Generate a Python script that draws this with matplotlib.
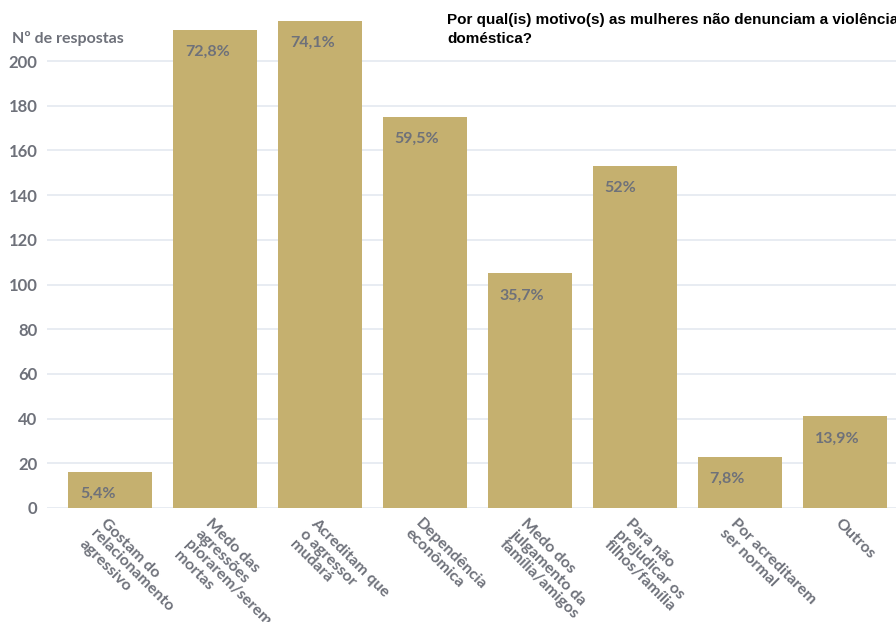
import matplotlib
matplotlib.use('Agg')
import matplotlib.pyplot as plt
from matplotlib import transforms

categorias = ['Gostam do\nrelacionamento\nagressivo',
              'Medo das\nagressões\npiorarem/serem\nmortas',
              'Acreditam que\no agressor\nmudará',
              'Dependência\neconômica',
              'Medo dos\njulgamento da\nfamília/amigos',
              'Para não\nprejudicar os\nfilhos/família',
              'Por acreditarem\nser normal',
              'Outros']
respostas = [16, 214, 218, 175, 105, 153, 23, 41]
percentuais = ['5,4%', '72,8%', '74,1%', '59,5%', '35,7%', '52%', '7,8%', '13,9%']
yticks = [0, 20, 40, 60, 80, 100, 120, 140, 160, 180, 200]

COR_BARRA = '#c5b06f'
COR_TEXTO = '#6e717a'
COR_GRADE = '#e4e9f0'

plt.rcParams['font.family'] = ['Lato', 'DejaVu Sans']

fig = plt.figure(figsize=(8.96, 6.22), dpi=100)
ax = fig.add_axes([47 / 896, 114 / 622, (896 - 47) / 896, 0.7905])

x = list(range(len(categorias)))
ax.bar(x, respostas, width=0.8, color=COR_BARRA, zorder=2)

ax.set_xlim(-0.6, 7.49)
ax.set_ylim(0, 220)
ax.set_yticks(yticks)
ax.yaxis.grid(True, color=COR_GRADE, linewidth=1.2, zorder=0)
ax.set_axisbelow(True)
for s in ax.spines.values():
    s.set_visible(False)
ax.tick_params(axis='y', length=0, pad=7, labelsize=12, labelcolor=COR_TEXTO)
for t in ax.get_yticklabels():
    t.set_fontweight('bold')
ax.set_xticks([])

# rotulos do eixo x
for xi, cat in zip(x, categorias):
    off = transforms.offset_copy(ax.transData, fig=fig, x=-2, y=-8, units='dots')
    ax.text(xi, 0, cat, transform=off, rotation=-45, rotation_mode='anchor',
            ha='left', va='top', multialignment='left', fontsize=11.5,
            fontweight='bold', color=COR_TEXTO, linespacing=1.1)

# percentuais dentro das barras
for xi, v, p in zip(x, respostas, percentuais):
    off = transforms.offset_copy(ax.transData, fig=fig, x=12, y=-22, units='dots')
    ax.text(xi - 0.4, v, p, transform=off, ha='left', va='center',
            fontsize=11.5, fontweight='bold', color=COR_TEXTO)

fig.text(12 / 896, 1 - 38 / 622, 'Nº de respostas', ha='left', va='center',
         fontsize=11.5, fontweight='bold', color=COR_TEXTO)
fig.text(447 / 896, 1 - 13 / 622,
         'Por qual(is) motivo(s) as mulheres não denunciam a violência\ndoméstica?',
         ha='left', va='top', fontsize=11, fontweight='bold', color='black',
         family='Liberation Sans', linespacing=1.45)

fig.savefig('out.png', dpi=100)
